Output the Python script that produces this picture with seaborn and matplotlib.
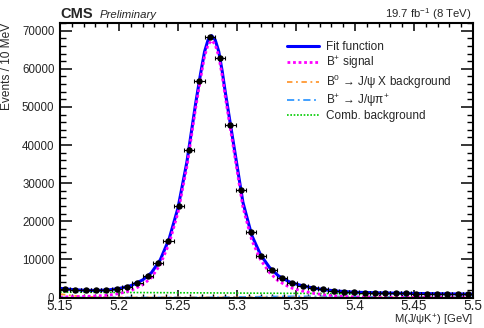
import numpy as np
import pandas as pd
import matplotlib
matplotlib.use("Agg")
import matplotlib.pyplot as plt
import seaborn as sns
from matplotlib.ticker import FixedLocator, FuncFormatter

# ROOT-like look
sns.set_theme(style="ticks")
plt.rcParams['font.family'] = ['Liberation Sans', 'DejaVu Sans']
plt.rcParams['mathtext.fontset'] = 'custom'
plt.rcParams['mathtext.rm'] = 'Liberation Sans'
plt.rcParams['mathtext.it'] = 'Liberation Sans:italic'
plt.rcParams['mathtext.bf'] = 'Liberation Sans:bold'

# --- data ---
mass_lo, mass_hi, n_bins = 5.15, 5.50, 40
counts = [2300, 2000, 1850, 1850, 2000, 2300, 2750, 3900, 5600, 9100,
          14900, 24000, 38700, 56800, 68300, 62900, 45300, 28300, 17150, 10900,
          7300, 5000, 3800, 3100, 2500, 2100, 1750, 1500, 1350, 1250,
          1200, 1150, 1100, 1050, 1000, 1000, 950, 950, 900, 900]

fit_x = [5.150, 5.160, 5.170, 5.180, 5.190, 5.200, 5.210, 5.220, 5.2275, 5.235,
         5.2425, 5.250, 5.2575, 5.265, 5.269, 5.2725, 5.2755, 5.2785, 5.2815, 5.2845,
         5.2875, 5.290, 5.2975, 5.305, 5.3125, 5.320, 5.3275, 5.335, 5.345, 5.355,
         5.365, 5.375, 5.385, 5.400, 5.420, 5.440, 5.460, 5.480, 5.500]
fit_y = [2400, 2100, 1900, 1850, 1950, 2350, 3100, 4600, 6500, 9900,
         15400, 23500, 35500, 51000, 58500, 64500, 67600, 68700, 67600, 64600,
         59300, 54000, 39500, 25000, 16300, 11200, 7900, 5700, 4000, 3100,
         2450, 2000, 1680, 1380, 1220, 1110, 1020, 950, 895]
sig_y = [100, 215, 280, 385, 575, 1020, 1795, 3310, 5220, 8630,
         14150, 22260, 34260, 49770, 57270, 63260, 66360, 67460, 66360, 63350,
         58060, 52760, 38240, 23710, 15000, 9870, 6540, 4330, 2600, 1720,
         1090, 660, 380, 150, 75, 45, 20, 8, 5]

b0_x = [5.15, 5.16, 5.17, 5.18, 5.19, 5.20, 5.21, 5.50]
b0_y = [900, 500, 250, 110, 40, 10, 0, 0]

pi_x = [5.15, 5.26, 5.29, 5.31, 5.33, 5.35, 5.37, 5.39, 5.41, 5.44, 5.47, 5.50]
pi_y = [0, 10, 60, 150, 250, 300, 290, 250, 190, 120, 70, 40]

comb_x = [5.15, 5.20, 5.25, 5.30, 5.35, 5.40, 5.45, 5.50]
comb_y = [1400, 1321, 1243, 1164, 1086, 1007, 929, 850]

edges = np.linspace(mass_lo, mass_hi, n_bins + 1)
df = pd.DataFrame({'mass': 0.5 * (edges[:-1] + edges[1:]), 'events': counts})
half_w = 0.5 * (edges[1] - edges[0])

fig = plt.figure(figsize=(4.85, 3.28), dpi=100)
ax = fig.add_axes([60 / 485, 30.5 / 328, 413 / 485, 274.8 / 328])

# curves
sns.lineplot(x=comb_x, y=comb_y, ax=ax, color='#00cc00', linewidth=1.2,
             linestyle=(0, (1, 1)), label='Comb. background')
sns.lineplot(x=pi_x, y=pi_y, ax=ax, color='#3399ff', linewidth=1.3,
             linestyle=(0, (4, 2, 1, 2)), label=r'B$^{+}$ → J/ψπ$^{+}$')
sns.lineplot(x=b0_x, y=b0_y, ax=ax, color='#ff9933', linewidth=1.3,
             linestyle=(0, (3, 2, 1, 2)), label=r'B$^{0}$ → J/ψ X background')
sns.lineplot(x=fit_x, y=fit_y, ax=ax, color='#0000ff', linewidth=2.2,
             label='Fit function')
sns.lineplot(x=fit_x, y=sig_y, ax=ax, color='#ff00ff', linewidth=2.0,
             linestyle=(0, (1, 1)), label=r'B$^{+}$ signal')

# data points
ax.errorbar(df['mass'], df['events'], xerr=half_w, yerr=np.sqrt(df['events']),
            fmt='o', color='black', ms=3.6, lw=0.8, capsize=1.6, capthick=0.8,
            zorder=5)

ax.set_xlim(mass_lo, mass_hi)
ax.set_ylim(0, 72100)

ax.xaxis.set_major_locator(FixedLocator(np.round(np.arange(5.15, 5.5001, 0.05), 2)))
ax.xaxis.set_minor_locator(FixedLocator(np.round(np.arange(5.15, 5.5001, 0.01), 2)))
ax.yaxis.set_major_locator(FixedLocator(np.arange(0, 70001, 10000)))
ax.yaxis.set_minor_locator(FixedLocator(np.arange(0, 72001, 2000)))
ax.xaxis.set_major_formatter(FuncFormatter(lambda v, p: f"{v:g}"))
ax.yaxis.set_major_formatter(FuncFormatter(lambda v, p: f"{v:.0f}"))

ax.tick_params(which='both', direction='in', top=True, right=True, color='black')
ax.tick_params(axis='x', which='major', length=5.8, width=1.1, labelsize=9.8, pad=1.2)
ax.tick_params(axis='x', which='minor', length=2.9, width=1.0)
ax.tick_params(axis='y', which='major', length=8.9, width=1.1, labelsize=8.3, pad=4)
ax.tick_params(axis='y', which='minor', length=4.5, width=1.0)
for s in ax.spines.values():
    s.set_linewidth(1.5)
    s.set_color('black')
ax.grid(False)

ax.set_ylabel('Events / 10 MeV', fontsize=8.6, ha='right')
ax.yaxis.set_label_coords(-0.113, 1.0)
ax.set_xlabel(r'M(J/ψK$^{+}$) [GeV]', fontsize=8.1, ha='right', va='bottom')
ax.xaxis.set_label_coords(1.0, -0.1105)

# legend
h, l = ax.get_legend_handles_labels()
order = ['Fit function', r'B$^{+}$ signal', r'B$^{0}$ → J/ψ X background',
         r'B$^{+}$ → J/ψπ$^{+}$', 'Comb. background']
hd = dict(zip(l, h))
ax.legend([hd[k] for k in order], order, loc='upper left',
          bbox_to_anchor=(287 / 485, (328 - 41) / 328), bbox_transform=fig.transFigure,
          frameon=False, fontsize=8.5, handlelength=2.7, handletextpad=0.6,
          labelspacing=0.12, borderpad=0, borderaxespad=0)

# header texts
fig.text(60 / 485, (328 - 17.5) / 328, 'CMS', fontsize=10.5, fontweight='bold',
         ha='left', va='baseline')
fig.text(100 / 485, (328 - 17.5) / 328, 'Preliminary', fontsize=8.2, style='italic',
         ha='left', va='baseline')
fig.text(472 / 485, (328 - 18.5) / 328, r'19.7 fb$^{-1}$ (8 TeV)', fontsize=8.2,
         ha='right', va='baseline')

fig.savefig('out.png', dpi=100)
